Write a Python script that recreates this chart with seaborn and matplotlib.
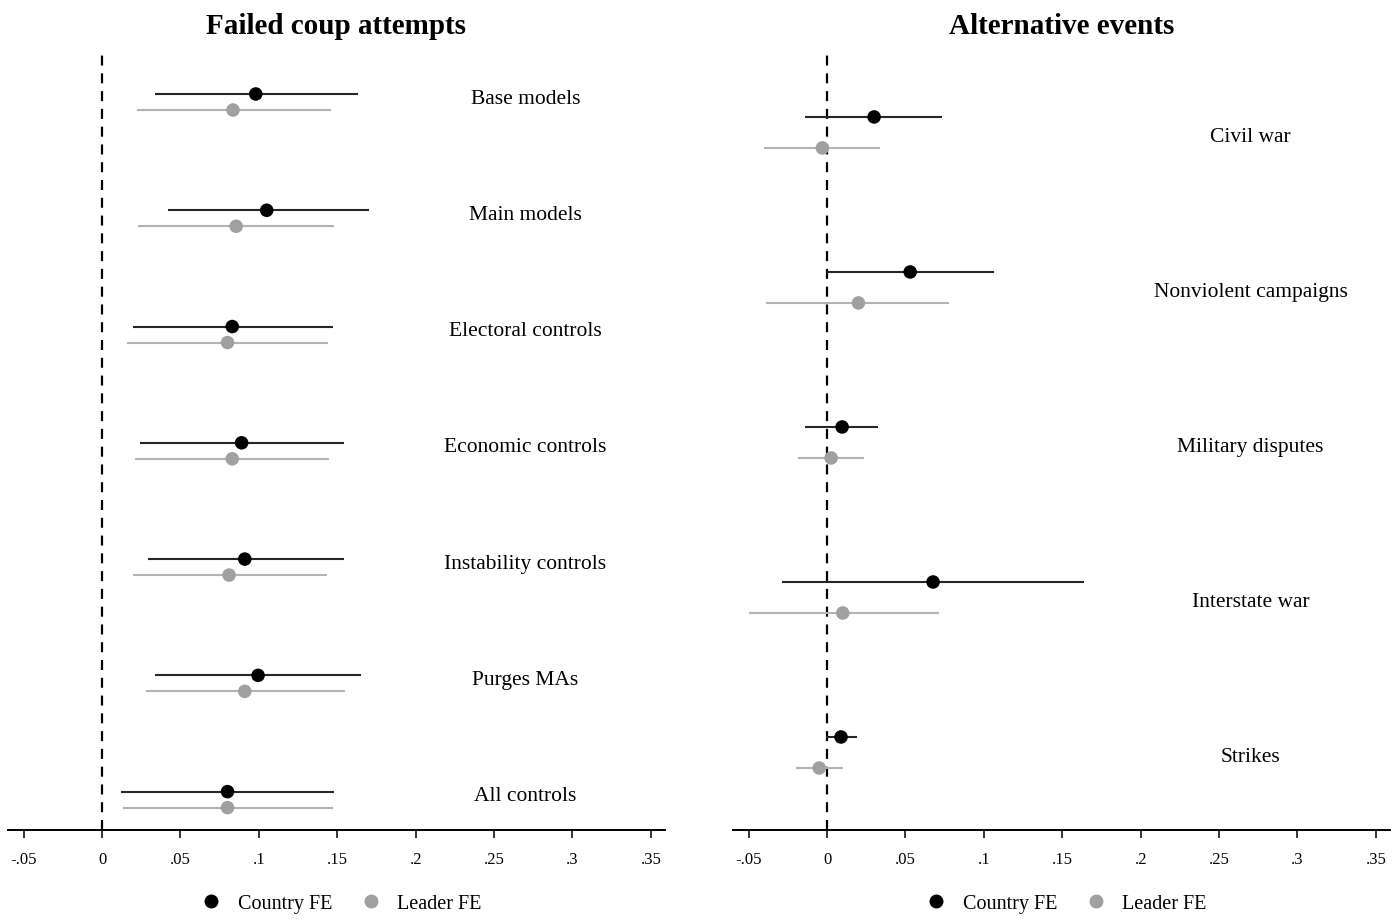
import numpy as np
import pandas as pd
import matplotlib
matplotlib.use("Agg")
import matplotlib.pyplot as plt
from matplotlib.lines import Line2D
import seaborn as sns

# ---- data: Failed coup attempts ----
left_labels = ["Base models", "Main models", "Electoral controls", "Economic controls",
               "Instability controls", "Purges MAs", "All controls"]
left_country_est = [0.098, 0.105, 0.083, 0.089, 0.091, 0.0995, 0.080]
left_country_lo = [0.034, 0.042, 0.020, 0.024, 0.029, 0.034, 0.012]
left_country_hi = [0.163, 0.170, 0.147, 0.154, 0.154, 0.165, 0.148]
left_leader_est = [0.0835, 0.0855, 0.080, 0.083, 0.081, 0.091, 0.080]
left_leader_lo = [0.022, 0.023, 0.016, 0.021, 0.020, 0.028, 0.0135]
left_leader_hi = [0.146, 0.148, 0.144, 0.145, 0.1435, 0.155, 0.147]

# ---- data: Alternative events ----
right_labels = ["Civil war", "Nonviolent campaigns", "Military disputes", "Interstate war", "Strikes"]
right_country_est = [0.030, 0.053, 0.0096, 0.0676, 0.0089]
right_country_lo = [-0.014, 0.000, -0.014, -0.0285, -0.0006]
right_country_hi = [0.0733, 0.1065, 0.0325, 0.164, 0.019]
right_leader_est = [-0.003, 0.020, 0.0026, 0.010, -0.005]
right_leader_lo = [-0.040, -0.039, -0.0185, -0.050, -0.020]
right_leader_hi = [0.034, 0.078, 0.0236, 0.0714, 0.010]

ticks = [-0.05, 0, 0.05, 0.1, 0.15, 0.2, 0.25, 0.3, 0.35]
tick_labels = ["-.05", "0", ".05", ".1", ".15", ".2", ".25", ".3", ".35"]

sns.set_theme(style="white")
plt.rcParams["font.family"] = ["Liberation Serif", "DejaVu Serif"]
plt.rcParams["text.color"] = "black"
plt.rcParams["xtick.color"] = "black"
plt.rcParams["axes.labelcolor"] = "black"

BLACK_PT = "#000000"
BLACK_LN = "#262626"
GRAY_PT = "#a0a0a0"
GRAY_LN = "#b3b3b3"

fig = plt.figure(figsize=(13.98, 9.2), dpi=100)
W, H = 1398, 920
axL = fig.add_axes([8 / W, 1 - 831 / H, 657 / W, 776 / H])
axR = fig.add_axes([733 / W, 1 - 831 / H, 657 / W, 776 / H])


def build(labels, ce, cl, ch, le, ll, lh, goff):
    rows = []
    for i, lab in enumerate(labels):
        rows.append(dict(label=lab, model="Country FE", y=i, est=ce[i], lo=cl[i], hi=ch[i]))
        rows.append(dict(label=lab, model="Leader FE", y=i + goff, est=le[i], lo=ll[i], hi=lh[i]))
    return pd.DataFrame(rows)


dfL = build(left_labels, left_country_est, left_country_lo, left_country_hi,
            left_leader_est, left_leader_lo, left_leader_hi, 0.1376)
dfR = build(right_labels, right_country_est, right_country_lo, right_country_hi,
            right_leader_est, right_leader_lo, right_leader_hi, 0.2)


def draw(ax, df, labels, lab_off, ylim, title):
    ax.axvline(0, color="black", lw=1.6, ls=(0, (4.5, 3.5)), zorder=1)
    for model, lc in [("Country FE", BLACK_LN), ("Leader FE", GRAY_LN)]:
        d = df[df.model == model]
        ax.hlines(d.y, d.lo, d.hi, color=lc, lw=1.5, zorder=2)
    sns.scatterplot(data=df, x="est", y="y", hue="model",
                    palette={"Country FE": BLACK_PT, "Leader FE": GRAY_PT},
                    s=95, edgecolor="none", legend=False, ax=ax, zorder=3)
    for i, lab in enumerate(labels):
        ax.text(0.27, i + lab_off, lab, ha="center", va="center", fontsize=15.5,
                color="black")
    ax.set_xlim(-0.06, 0.359)
    ax.set_ylim(*ylim)
    ax.set_xticks(ticks)
    ax.set_xticklabels(tick_labels, fontsize=12, color="black")
    ax.set_yticks([])
    ax.set_xlabel("")
    ax.set_ylabel("")
    for s in ["left", "right", "top"]:
        ax.spines[s].set_visible(False)
    ax.spines["bottom"].set_color("black")
    ax.spines["bottom"].set_linewidth(1.4)
    ax.tick_params(axis="x", direction="out", length=6, width=1.1, color="black",
                   pad=9, bottom=True)
    ax.set_title(title, fontsize=21, fontweight="bold", pad=15, color="black")
    handles = [Line2D([], [], marker="o", ls="none", color=BLACK_PT, markersize=9),
               Line2D([], [], marker="o", ls="none", color=GRAY_PT, markersize=9)]
    leg = ax.legend(handles, ["Country FE", "Leader FE"], loc="center",
                    bbox_to_anchor=(0.5, -0.095), ncol=2, frameon=False, fontsize=14.5,
                    handletextpad=0.3, columnspacing=0.95)
    for t in leg.get_texts():
        t.set_color("black")


draw(axL, dfL, left_labels, 0.035, (6.33, -0.344), "Failed coup attempts")
draw(axR, dfR, right_labels, 0.126, (4.6, -0.406), "Alternative events")

fig.savefig("out.png", dpi=100)
